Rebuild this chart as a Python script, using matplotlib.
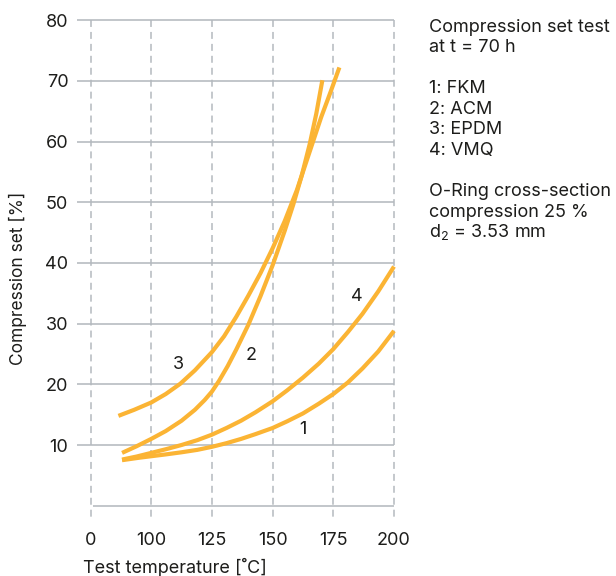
import matplotlib
matplotlib.use("Agg")
import matplotlib.pyplot as plt

plt.rcParams['font.family'] = ['Inter', 'DejaVu Sans']
plt.rcParams['mathtext.fontset'] = 'custom'
plt.rcParams['mathtext.rm'] = 'Inter'
plt.rcParams['lines.scale_dashes'] = False

# ---- data ----
x_fkm = [88, 95, 100, 106, 112.5, 119, 125, 131, 137, 143, 150, 156, 162.5, 169, 175, 181, 187, 193.5, 200]
y_fkm = [7.5, 7.9, 8.15, 8.45, 8.8, 9.2, 9.7, 10.3, 11.0, 11.8, 12.8, 13.9, 15.2, 16.8, 18.4, 20.3, 22.6, 25.4, 28.8]

x_acm = [88, 94, 100, 106, 112.5, 118, 122, 125, 128, 131.5, 135, 140, 145, 150, 155, 158.5, 162, 165.3, 168, 170.5]
y_acm = [8.7, 9.8, 11.0, 12.3, 14.0, 15.8, 17.4, 18.8, 20.6, 23.0, 25.7, 29.8, 34.5, 39.6, 45.3, 49.6, 54.4, 59.6, 64.6, 70.1]

x_epdm = [86.5, 93, 100, 106, 112, 118, 125, 130, 135, 140, 145, 150, 155, 160, 165, 170, 174, 177.5]
y_epdm = [14.8, 15.8, 17.0, 18.4, 20.1, 22.3, 25.3, 27.9, 31.1, 34.6, 38.3, 42.4, 46.9, 52.0, 58.0, 64.0, 68.3, 72.2]

x_vmq = [88, 94, 100, 106, 112.5, 119, 125, 131, 137, 143, 150, 156, 162.5, 169, 175, 181, 187, 193.5, 200]
y_vmq = [7.6, 8.1, 8.7, 9.3, 10.0, 10.8, 11.7, 12.8, 14.0, 15.4, 17.2, 19.0, 21.1, 23.4, 25.8, 28.6, 31.6, 35.3, 39.4]

curve_labels = ["1", "2", "3", "4"]
label_pos_x = [162.6, 141.0, 111.2, 184.6]
label_pos_y = [12.5, 24.8, 23.3, 34.5]

x_tick_pos = [75, 100, 125, 150, 175, 200]
x_tick_labels = ["0", "100", "125", "150", "175", "200"]
y_ticks = [10, 20, 30, 40, 50, 60, 70, 80]

info_lines = ["Compression set test", "at t = 70 h", "",
              "1: FKM", "2: ACM", "3: EPDM", "4: VMQ", "",
              "O-Ring cross-section", "compression 25 %", "d$_2$ = 3.53 mm"]

# ---- styling ----
ORANGE = "#FBB434"
GRID = "#b4b9be"
TEXT = "#1d1d1b"
W, H = 616, 576

fig = plt.figure(figsize=(W / 100, H / 100), dpi=100)
ax = fig.add_axes([90.5 / W, 1 - 505.7 / H, (394 - 90.5) / W, (505.7 - 20.1) / H])
ax.set_xlim(75, 200)
ax.set_ylim(0, 80)
for s in ax.spines.values():
    s.set_visible(False)

# horizontal grid lines
for yv in y_ticks:
    ax.plot([69.4, 200], [yv, yv], color=GRID, lw=1.15, clip_on=False, zorder=1,
            solid_capstyle='butt')
ax.plot([76, 200], [0, 0], color=GRID, lw=1.15, clip_on=False, zorder=1,
        solid_capstyle='butt')
# vertical dashed lines
for xv in x_tick_pos:
    ax.plot([xv, xv], [80, -2.2], color=GRID, lw=1.1, clip_on=False, zorder=1,
            linestyle=(0, (5.0, 3.6)), dash_capstyle='butt')

# curves
for xs, ys in [(x_fkm, y_fkm), (x_acm, y_acm), (x_epdm, y_epdm), (x_vmq, y_vmq)]:
    ax.plot(xs, ys, color=ORANGE, lw=3.0, solid_capstyle='butt',
            solid_joinstyle='round', zorder=3, clip_on=False)

for t, lx, ly in zip(curve_labels, label_pos_x, label_pos_y):
    ax.text(lx, ly, t, fontsize=13, color=TEXT, ha='center', va='center', zorder=4)

# ticks
ax.set_xticks(x_tick_pos)
ax.set_xticklabels(x_tick_labels)
ax.set_yticks(y_ticks)
ax.set_yticklabels([str(v) for v in y_ticks])
ax.tick_params(axis='both', length=0, labelsize=13, colors=TEXT)
ax.tick_params(axis='y', pad=16)
ax.tick_params(axis='x', pad=19)

# axis labels
fig.text(18 / W, 1 - 278 / H, "Compression set [%]", rotation=90, fontsize=12.5,
         color=TEXT, ha='center', va='center')
fig.text(83 / W, 1 - 567 / H, "Test temperature [˚C]", fontsize=13,
         color=TEXT, ha='left', va='center')

# info text on the right
y0 = 31.5
step = 20.6
for i, line in enumerate(info_lines):
    if line:
        fig.text(429 / W, 1 - (y0 + i * step) / H, line, fontsize=13,
                 color=TEXT, ha='left', va='baseline')

fig.savefig("out.png", dpi=100)
